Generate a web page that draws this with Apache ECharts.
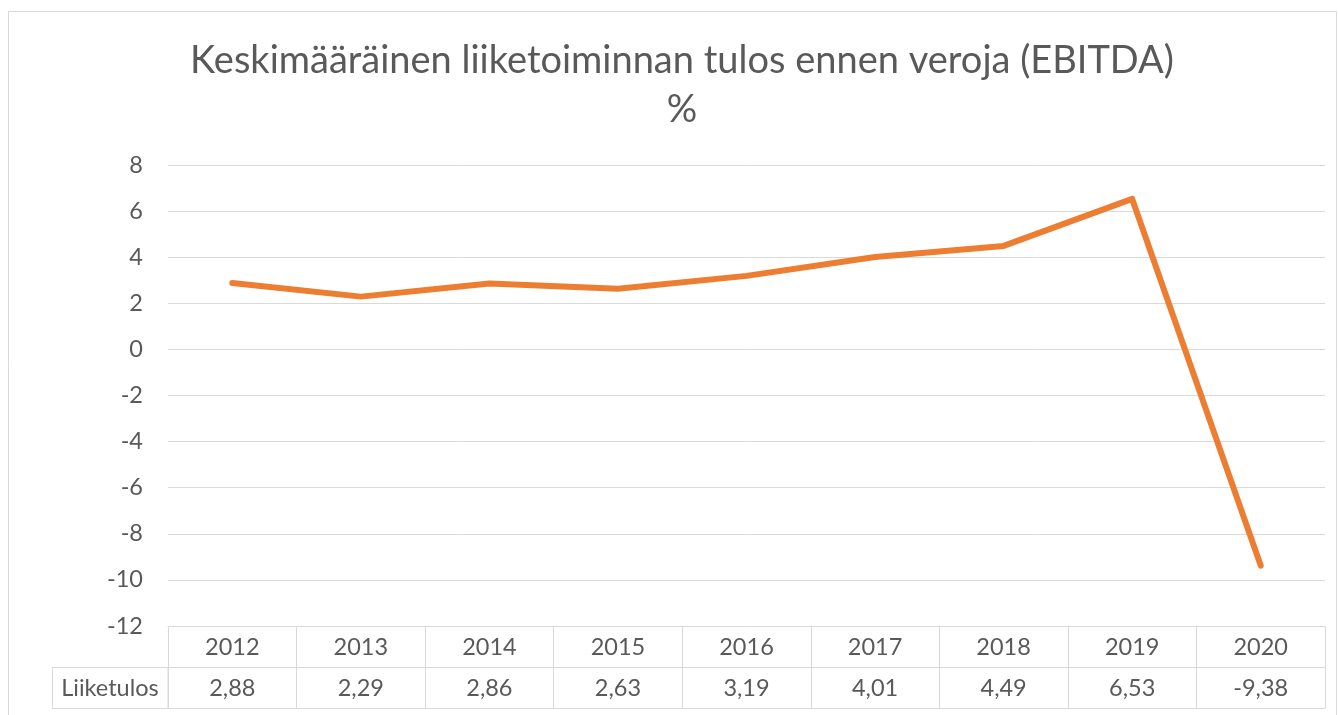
<!DOCTYPE html>
<html>
<head>
<meta charset="utf-8">
<script src="https://cdn.jsdelivr.net/npm/echarts@6/dist/echarts.min.js"></script>
<style>html,body{margin:0;padding:0;background:#fff}#c{width:1338px;height:715px}</style>
</head>
<body>
<div id="c"></div>
<script>
const titleText = 'Keskimääräinen liiketoiminnan tulos ennen veroja (EBITDA)\n%';
const years = ['2012','2013','2014','2015','2016','2017','2018','2019','2020'];
const liiketulos = [2.88, 2.29, 2.86, 2.63, 3.19, 4.01, 4.49, 6.53, -9.38];
const seriesName = 'Liiketulos';
const yMin = -12, yMax = 8, yStep = 2;

const valueLabels = liiketulos.map(v => v.toFixed(2).replace('.', ','));
const FONT = 'Lato';
const TXT = '#595959';
const GRIDC = '#d9d9d9';
const FS = 23.5;

const chart = echarts.init(document.getElementById('c'));
chart.setOption({
  backgroundColor: '#fff',
  animation: false,
  title: {
    text: titleText, left: 677, top: 31, textAlign: 'center',
    textStyle: { fontFamily: FONT, fontSize: 38, fontWeight: 'normal', color: TXT, lineHeight: 49 }
  },
  grid: { left: 168, right: 13, top: 165, bottom: 89, containLabel: false },
  xAxis: [
    { type: 'category', data: years, position: 'bottom', boundaryGap: true,
      axisLine: { onZero: false, lineStyle: { color: GRIDC, width: 1 } },
      axisTick: { show: true, inside: false, length: 82, lineStyle: { color: GRIDC, width: 1 } },
      axisLabel: { margin: 9, fontFamily: FONT, fontSize: FS, color: TXT },
      splitLine: { show: false } },
    { type: 'category', data: valueLabels, position: 'bottom', offset: 41, boundaryGap: true,
      axisLine: { onZero: false, lineStyle: { color: GRIDC, width: 1 } },
      axisTick: { show: false },
      axisLabel: { margin: 9, fontFamily: FONT, fontSize: FS, color: TXT },
      splitLine: { show: false } },
    { type: 'category', data: years, position: 'bottom', offset: 82, boundaryGap: true,
      axisLine: { onZero: false, lineStyle: { color: GRIDC, width: 1 } },
      axisTick: { show: false }, axisLabel: { show: false }, splitLine: { show: false } }
  ],
  yAxis: {
    type: 'value', min: yMin, max: yMax, interval: yStep,
    axisLine: { show: false }, axisTick: { show: false },
    axisLabel: { margin: 25, fontFamily: FONT, fontSize: FS, color: TXT },
    splitLine: { lineStyle: { color: GRIDC, width: 1 } }
  },
  series: [{
    name: seriesName, type: 'line', xAxisIndex: 0, data: liiketulos,
    symbol: 'none', smooth: false,
    lineStyle: { color: '#ED7D31', width: 6, cap: 'round', join: 'round' }
  }],
  graphic: [
    { type: 'rect', shape: { x: 8.5, y: 11.5, width: 1328, height: 720 },
      style: { fill: 'none', stroke: GRIDC, lineWidth: 1 }, silent: true, z: -1 },
    { type: 'rect', shape: { x: 52.5, y: 667.5, width: 115.5, height: 41 },
      style: { fill: 'none', stroke: GRIDC, lineWidth: 1 }, silent: true },
    { type: 'text', x: 110, y: 688,
      style: { text: seriesName, fontFamily: FONT, fontSize: FS, fill: TXT, align: 'center', verticalAlign: 'middle' } }
  ]
});
</script>
</body>
</html>
